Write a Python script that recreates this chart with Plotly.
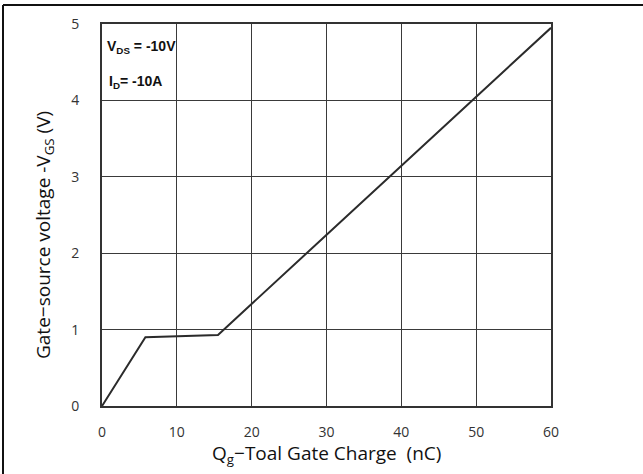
import plotly.graph_objects as go

qg = [0, 5.8, 15.5, 60]
vgs = [0, 0.9, 0.93, 4.95]
x_ticks = [0, 10, 20, 30, 40, 50, 60]
y_ticks = [0, 1, 2, 3, 4, 5]

W, H = 643, 474
L, R, T, B = 102, 92, 24, 68
pw, ph = W - L - R, H - T - B

def px(x):
    return (x - L) / pw

def py(y):
    return (H - B - y) / ph

fig = go.Figure()
fig.add_trace(go.Scatter(x=qg, y=vgs, mode="lines",
                         line=dict(color="#2b2b2b", width=2), showlegend=False,
                         cliponaxis=False))

font = "Open Sans, Noto Sans, sans-serif"
fig.update_layout(
    width=W, height=H, margin=dict(l=L, r=R, t=T, b=B),
    paper_bgcolor="white", plot_bgcolor="white",
    xaxis=dict(range=[0, 60], tickvals=x_ticks, showgrid=True, gridcolor="#3a3a3a",
               gridwidth=1, showline=True, linecolor="#333", linewidth=2, mirror=True,
               zeroline=False, ticks="", ticklabelstandoff=12,
               tickfont=dict(family=font, size=14, color="#333")),
    yaxis=dict(range=[0, 5], tickvals=y_ticks, showgrid=True, gridcolor="#3a3a3a",
               gridwidth=1, showline=True, linecolor="#333", linewidth=2, mirror=True,
               zeroline=False, ticks="", ticklabelstandoff=18,
               tickfont=dict(family=font, size=14, color="#333")),
    font=dict(family=font),
)

fig.add_annotation(xref="paper", yref="paper", x=px(326), y=py(454),
                   xanchor="center", yanchor="middle",
                   text="Q<sub>g</sub>−Toal Gate Charge  (nC)", showarrow=False,
                   font=dict(family=font, size=19, color="#111"))
fig.add_annotation(xref="paper", yref="paper", x=px(44), y=py(235),
                   xanchor="center", yanchor="middle",
                   text="Gate−source voltage -V<sub>GS</sub> (V)", showarrow=False,
                   textangle=-90, font=dict(family=font, size=19, color="#111"))
fig.add_annotation(xref="paper", yref="paper", x=px(105), y=py(47),
                   xanchor="left", yanchor="middle",
                   text="<b>V<sub>DS</sub> = -10V</b>", showarrow=False,
                   font=dict(family="Liberation Sans, Arial", size=14, color="#111"))
fig.add_annotation(xref="paper", yref="paper", x=px(107), y=py(82),
                   xanchor="left", yanchor="middle",
                   text="<b>I<sub>D</sub>= -10A</b>", showarrow=False,
                   font=dict(family="Liberation Sans, Arial", size=14, color="#111"))

# outer border lines (top and left)
fig.add_shape(type="line", xref="paper", yref="paper", x0=px(3), x1=px(643),
              y0=py(5), y1=py(5), line=dict(color="#111", width=2))
fig.add_shape(type="line", xref="paper", yref="paper", x0=px(3), x1=px(3),
              y0=py(5), y1=py(474), line=dict(color="#111", width=2))

fig.write_html("out.html")
